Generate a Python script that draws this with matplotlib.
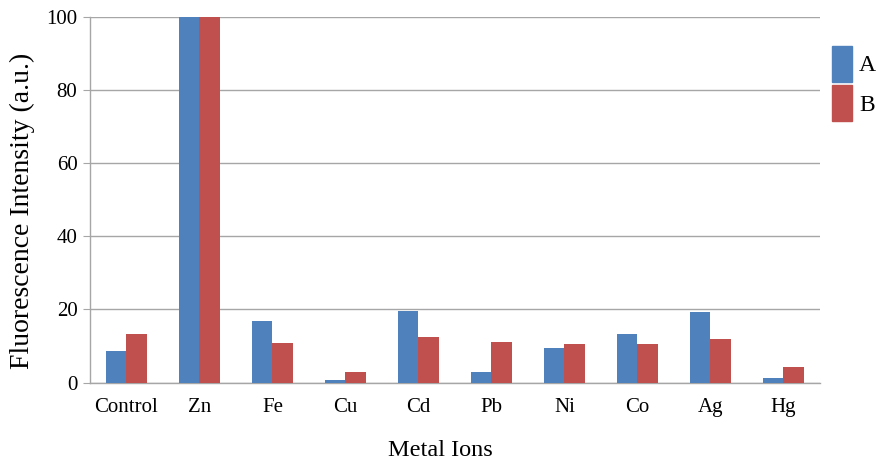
import numpy as np
import matplotlib.pyplot as plt
from matplotlib.patches import Patch

plt.rcParams['font.family'] = ['Liberation Serif', 'DejaVu Serif']

ions = ["Control", "Zn", "Fe", "Cu", "Cd", "Pb", "Ni", "Co", "Ag", "Hg"]
series_a = [8.7, 100, 16.8, 0.6, 19.7, 3.0, 9.5, 13.4, 19.3, 1.3]
series_b = [13.3, 100, 10.9, 3.0, 12.4, 11.1, 10.6, 10.6, 12.0, 4.2]

blue = "#4f81bd"
red = "#c0504d"
grid_col = "#a6a6a6"

fig = plt.figure(figsize=(8.77, 4.62), dpi=100)
ax = fig.add_axes([0.1026, 0.172, 0.8324, 0.791])

x = np.arange(len(ions))
w = 0.275
ax.bar(x - w / 2, series_a, w, color=blue, zorder=3)
ax.bar(x + w / 2, series_b, w, color=red, zorder=3)

ax.set_xlim(-0.5, len(ions) - 0.5)
ax.set_ylim(0, 100)
ax.set_yticks([0, 20, 40, 60, 80, 100])
ax.yaxis.grid(True, color=grid_col, linewidth=1.0, zorder=0)
ax.set_xticks(x)
ax.set_xticklabels(ions)
ax.tick_params(axis='x', length=0, labelsize=15, pad=11)
ax.tick_params(axis='y', length=5, color=grid_col, labelsize=15, pad=4)

for s in ['top', 'right']:
    ax.spines[s].set_visible(False)
for s in ['left', 'bottom']:
    ax.spines[s].set_color(grid_col)
    ax.spines[s].set_linewidth(1.0)

# axis titles placed by hand to match the original layout
fig.text(0.026, 0.5433, "Fluorescence Intensity (a.u.)", fontsize=20,
         rotation=90, ha='center', va='center')
fig.text(0.5023, 6 / 462, "Metal Ions", fontsize=17.5, ha='center', va='baseline')

handles = [Patch(color=blue), Patch(color=red)]
fig.legend(handles, ["A", "B"], loc='upper left', bbox_to_anchor=(0.9487, 0.9004),
           frameon=False, fontsize=17, handlelength=0.85, handleheight=1.95,
           handletextpad=0.3, labelspacing=0.15, borderaxespad=0, borderpad=0)

fig.savefig("out.png", dpi=100)
